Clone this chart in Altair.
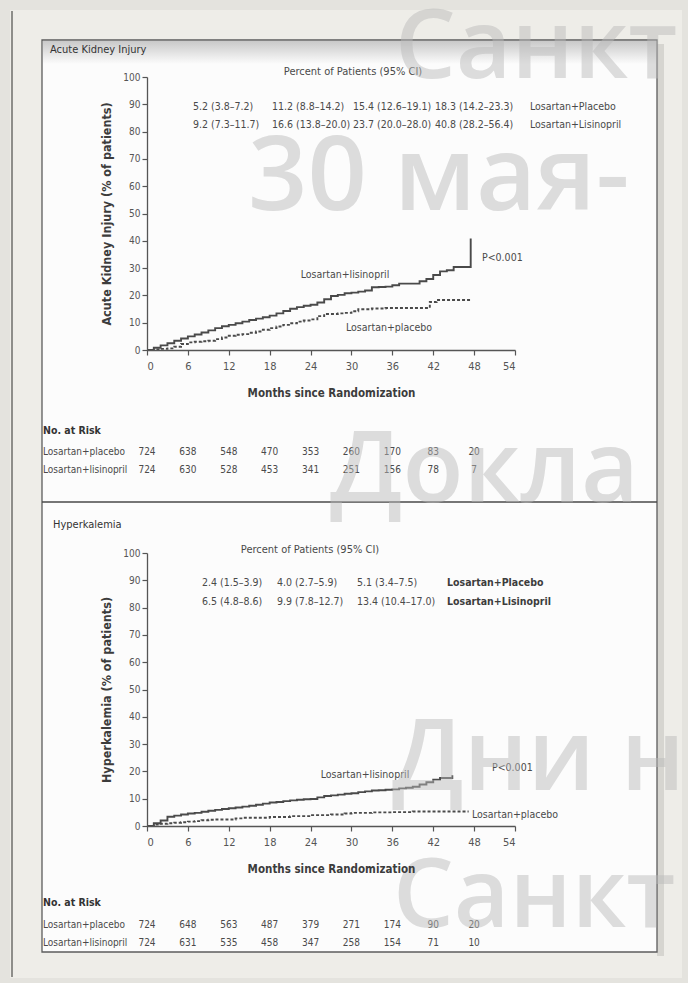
import altair as alt
import pandas as pd

# ---------------- data ----------------
# Acute kidney injury, cumulative incidence (%) by month since randomization
aki_lis_months = [0, 1, 2, 3, 4, 5, 6, 7, 8, 9, 10, 11, 12, 13, 14, 15, 16, 17, 18, 19, 20, 21, 22, 23,
                  24, 25, 26, 27, 28, 29, 30, 31, 32, 33, 34, 35, 36, 37, 38, 39, 40, 41, 42, 43, 44, 45, 47.5]
aki_lis_pct = [0, 0.8, 1.7, 2.5, 3.4, 4.2, 5.0, 5.7, 6.4, 7.2, 8.0, 8.7, 9.2, 9.8, 10.4, 11.0, 11.5, 12.0,
               12.6, 13.4, 14.3, 15.1, 15.7, 16.2, 16.6, 17.4, 18.6, 19.8, 20.2, 20.8, 21.0, 21.4, 21.8,
               23.0, 23.1, 23.2, 23.7, 24.3, 24.3, 24.3, 25.2, 26.0, 27.5, 28.8, 29.2, 30.4, 40.8]
aki_pla_months = [0, 1, 2, 3, 4, 5, 6, 7, 8, 9, 10, 11, 12, 13, 14, 15, 16, 17, 18, 19, 20, 21, 22, 23,
                  24, 25, 26, 28, 29, 30, 31, 33, 35, 41.5, 42.5, 47.5]
aki_pla_pct = [0, 0.2, 0.4, 0.6, 1.2, 2.2, 2.8, 3.0, 3.2, 3.4, 4.0, 4.6, 5.2, 5.6, 5.8, 6.3, 6.8, 7.4,
               8.0, 8.6, 9.2, 9.8, 10.4, 10.8, 11.2, 12.4, 13.2, 13.4, 13.6, 14.2, 14.9, 15.2, 15.4,
               17.6, 18.3, 18.3]

# Hyperkalemia, cumulative incidence (%) by month since randomization
hyp_lis_months = [0, 1, 2, 3, 4, 5, 6, 7, 8, 9, 10, 11, 12, 13, 14, 15, 16, 17, 18, 19, 20, 21, 22, 23,
                  24, 25, 26, 27, 28, 29, 30, 31, 32, 33, 34, 35, 36, 37, 38, 39, 40, 41, 42, 43, 44.8]
hyp_lis_pct = [0, 1.0, 2.0, 3.4, 3.8, 4.2, 4.6, 4.8, 5.2, 5.6, 5.9, 6.2, 6.5, 6.8, 7.1, 7.4, 7.8, 8.2,
               8.6, 8.8, 9.1, 9.4, 9.6, 9.8, 9.9, 10.5, 11.0, 11.2, 11.5, 11.8, 12.0, 12.4, 12.7, 13.0,
               13.1, 13.3, 13.4, 13.8, 14.0, 14.4, 15.2, 16.0, 17.0, 17.6, 18.6]
hyp_pla_months = [0, 1, 2, 3, 4, 5, 6, 7, 8, 9, 10, 13, 14, 18, 21, 24, 27, 29, 30, 33, 36, 39, 47.2]
hyp_pla_pct = [0, 0.5, 0.8, 1.0, 1.2, 1.4, 1.6, 1.8, 2.1, 2.3, 2.4, 2.8, 3.0, 3.3, 3.6, 4.0, 4.2, 4.6,
               4.8, 5.0, 5.1, 5.3, 5.3]

# Numbers at risk
risk_months = [0, 6, 12, 18, 24, 30, 36, 42, 48]
aki_risk_placebo = [724, 638, 548, 470, 353, 260, 170, 83, 20]
aki_risk_lis = [724, 630, 528, 453, 341, 251, 156, 78, 7]
hyp_risk_placebo = [724, 648, 563, 487, 379, 271, 174, 90, 20]
hyp_risk_lis = [724, 631, 535, 458, 347, 258, 154, 71, 10]

# Percent of patients (95% CI)
aki_ci_placebo = ["5.2 (3.8–7.2)", "11.2 (8.8–14.2)", "15.4 (12.6–19.1)", "18.3 (14.2–23.3)"]
aki_ci_lis = ["9.2 (7.3–11.7)", "16.6 (13.8–20.0)", "23.7 (20.0–28.0)", "40.8 (28.2–56.4)"]
hyp_ci_placebo = ["2.4 (1.5–3.9)", "4.0 (2.7–5.9)", "5.1 (3.4–7.5)"]
hyp_ci_lis = ["6.5 (4.8–8.6)", "9.9 (7.8–12.7)", "13.4 (10.4–17.0)"]

arm_labels = ["Losartan+Placebo", "Losartan+Lisinopril"]
risk_labels = ["Losartan+placebo", "Losartan+lisinopril"]
watermark = ["Санкт", "30 мая-", "Доклад", "Дни н", "Санкт"]

# ---------------- style ----------------
FONT = "Liberation Sans Narrow, DejaVu Sans Condensed, sans-serif"
WFONT = "Open Sans"
TXT = "#4a4a4a"
AXC = "#555555"
CURVE = "#4a4a4a"
W, H = 368, 273          # plot area of each panel
ONE = pd.DataFrame({"k": [0]})


def txt(s, x, y, size=10.5, weight="normal", align="left", baseline="middle",
        color=TXT, font=FONT, opacity=1.0, limit=0):
    kw = dict(align=align, baseline=baseline, fontSize=size, fontWeight=weight,
              color=color, font=font, opacity=opacity)
    if limit:
        kw.update(limit=limit, ellipsis="\u200b")
    return alt.Chart(ONE).mark_text(**kw).encode(
        x=alt.value(x), y=alt.value(y), text=alt.value(s))


def box(x, x2, y, y2, fill, stroke=None, sw=0, opacity=1.0):
    kw = dict(color=fill, opacity=opacity)
    if stroke:
        kw.update(stroke=stroke, strokeWidth=sw)
    return alt.Chart(ONE).mark_rect(**kw).encode(
        x=alt.value(x), x2=alt.value(x2), y=alt.value(y), y2=alt.value(y2))


def rule(x, x2, y, y2, color, sw):
    return alt.Chart(ONE).mark_rule(color=color, strokeWidth=sw).encode(
        x=alt.value(x), x2=alt.value(x2), y=alt.value(y), y2=alt.value(y2))


def x_enc():
    return alt.X("month:Q", scale=alt.Scale(domain=[0, 54], nice=False),
                 axis=alt.Axis(values=risk_months + [54], format="d", grid=False,
                               title="Months since Randomization", tickSize=5,
                               labelPadding=5, labelFontSize=11, titleFontSize=11.5,
                               titleFontWeight="bold", titlePadding=16, zindex=1))


def y_enc(title):
    return alt.Y("pct:Q", scale=alt.Scale(domain=[0, 100], nice=False),
                 axis=alt.Axis(values=list(range(0, 101, 10)), format="d", grid=False,
                               title=title, tickSize=5, labelPadding=2, labelFontSize=10,
                               titleFontSize=12.5, titleFontWeight="bold", titlePadding=9,
                               zindex=1))


def km(months, pct, title, dash=None):
    df = pd.DataFrame({"month": months, "pct": pct})
    kw = dict(interpolate="step-after", color=CURVE, strokeWidth=1.9)
    if dash:
        kw.update(strokeDash=dash)
    return alt.Chart(df).mark_line(**kw).encode(x=x_enc(), y=y_enc(title))


def risk_row(values, y, title):
    df = pd.DataFrame({"month": risk_months, "n": values})
    return alt.Chart(df).mark_text(fontSize=10, font=FONT, color=TXT, baseline="middle").encode(
        x=x_enc(), y=alt.value(y), text="n:Q")


# ---------------- page frame (drawn in top panel coordinates) ----------------
OX, OY = 147, 77  # top panel origin on the page
frame = [
    box(-OX, 688 - OX, -OY, 983 - OY, "#e4e3de"),
    box(10 - OX, 682 - OX, 10 - OY, 978 - OY, "#eeede8"),
    rule(12 - OX, 12 - OX, 11 - OY, 977 - OY, "#8e8e8a", 2),
    box(657 - OX, 664 - OX, 44 - OY, 956 - OY, "#d6d5d0"),
    box(42 - OX, 657 - OX, 40 - OY, 952 - OY, "#fcfcfc", "#5c5c5c", 1.3),
    alt.Chart(ONE).mark_rect(
        color=alt.LinearGradient(gradient="linear", x1=0, y1=0, x2=0, y2=1,
                                 stops=[alt.GradientStop(color="#c9c9c9", offset=0),
                                        alt.GradientStop(color="#fcfcfc", offset=1)])
    ).encode(x=alt.value(43 - OX), x2=alt.value(656 - OX), y=alt.value(41 - OY), y2=alt.value(64 - OY)),
    rule(42 - OX, 657 - OX, 502 - OY, 502 - OY, "#4a4a4a", 1.5),
]

# ---------------- top panel: acute kidney injury ----------------
aki_title = "Acute Kidney Injury (% of patients)"
top_layers = frame + [
    km(aki_pla_months, aki_pla_pct, aki_title, dash=[3, 2]),
    km(aki_lis_months, aki_lis_pct, aki_title),
    txt("Acute Kidney Injury", 50 - OX, 50 - OY, size=11, color="#333"),
    txt("Percent of Patients (95% CI)", 353 - OX, 72 - OY, size=11, align="center"),
]
col_x = [193, 272, 353, 435]
for i in range(4):
    top_layers.append(txt(aki_ci_placebo[i], col_x[i] - OX, 107 - OY))
    top_layers.append(txt(aki_ci_lis[i], col_x[i] - OX, 125 - OY))
top_layers += [
    txt(arm_labels[0], 530 - OX, 107 - OY),
    txt(arm_labels[1], 530 - OX, 125 - OY),
    txt("Losartan+lisinopril", 345 - OX, 275 - OY, align="center"),
    txt("Losartan+placebo", 389 - OX, 328 - OY, align="center"),
    txt("P<0.001", 482 - OX, 258 - OY),
    txt("No. at Risk", 43 - OX, 431 - OY, size=10.5, weight="bold", color="#333"),
    txt(risk_labels[0], 43 - OX, 452 - OY, size=10),
    txt(risk_labels[1], 43 - OX, 470 - OY, size=10),
    risk_row(aki_risk_placebo, 452 - OY, aki_title),
    risk_row(aki_risk_lis, 470 - OY, aki_title),
]
top = alt.layer(*top_layers).properties(width=W, height=H)

# ---------------- bottom panel: hyperkalemia ----------------
BY = 553  # bottom panel origin on the page
hyp_title = "Hyperkalemia (% of patients)"
bot_layers = [
    km(hyp_pla_months, hyp_pla_pct, hyp_title, dash=[3, 2]),
    km(hyp_lis_months, hyp_lis_pct, hyp_title),
    txt("Hyperkalemia", 53 - OX, 525 - BY, size=11, color="#333"),
    txt("Percent of Patients (95% CI)", 310 - OX, 550 - BY, size=11, align="center"),
]
hcol_x = [202, 277, 357]
for i in range(3):
    bot_layers.append(txt(hyp_ci_placebo[i], hcol_x[i] - OX, 583 - BY))
    bot_layers.append(txt(hyp_ci_lis[i], hcol_x[i] - OX, 602 - BY))
bot_layers += [
    txt(arm_labels[0], 447 - OX, 583 - BY, weight="bold", color="#3c3c3c"),
    txt(arm_labels[1], 447 - OX, 602 - BY, weight="bold", color="#3c3c3c"),
    txt("Losartan+lisinopril", 365 - OX, 775 - BY, align="center"),
    txt("Losartan+placebo", 472 - OX, 815 - BY),
    txt("P<0.001", 492 - OX, 768 - BY),
    txt("No. at Risk", 43 - OX, 903 - BY, size=10.5, weight="bold", color="#333"),
    txt(risk_labels[0], 43 - OX, 925 - BY, size=10),
    txt(risk_labels[1], 43 - OX, 943 - BY, size=10),
    risk_row(hyp_risk_placebo, 925 - BY, hyp_title),
    risk_row(hyp_risk_lis, 943 - BY, hyp_title),
]

# translucent watermark across the page, drawn last so it sits on top
wm_pos = [(395, 78, 96), (248, 210, 104), (330, 502, 100), (392, 790, 99), (393, 927, 96)]
for s, (wx, wy, ws) in zip(watermark, wm_pos):
    bot_layers.append(txt(s, wx - OX, wy - BY, size=ws, weight=600, baseline="alphabetic",
                          color="#bababa", font=WFONT, opacity=0.48, limit=687 - wx))

bottom = alt.layer(*bot_layers).properties(width=W, height=H)

chart = alt.vconcat(top, bottom, spacing=BY - OY - H, bounds="flush").properties(
    padding=0, background="#e4e3de"
).configure_view(strokeWidth=0).configure_axis(
    labelFont=FONT, titleFont=FONT, labelColor=AXC, titleColor="#3c3c3c",
    domainColor=AXC, tickColor=AXC, domainWidth=1.3, tickWidth=1.2
)

chart.save("out.html", embed_options={"renderer": "svg", "actions": False})
